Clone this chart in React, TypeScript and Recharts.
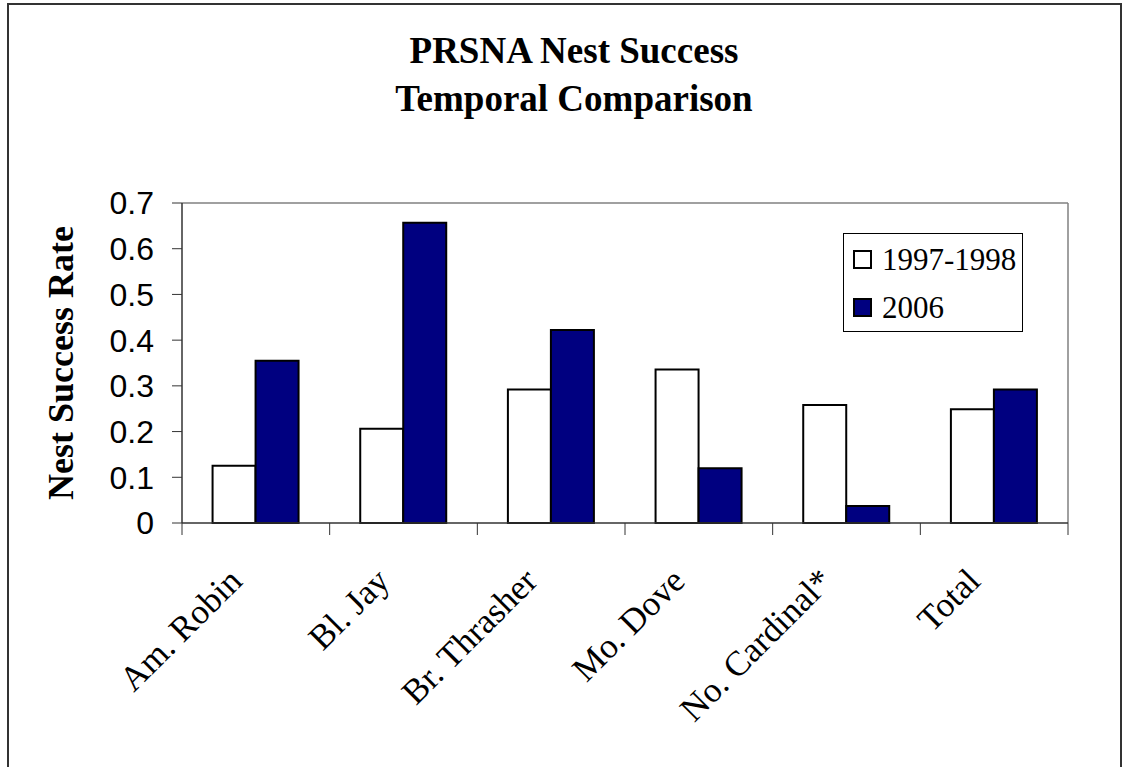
import { BarChart, Bar, XAxis, YAxis, CartesianGrid } from 'recharts';

const categories = ['Am. Robin', 'Bl. Jay', 'Br. Thrasher', 'Mo. Dove', 'No. Cardinal*', 'Total'];
const early = [0.125, 0.206, 0.292, 0.336, 0.258, 0.249];
const recent = [0.355, 0.657, 0.422, 0.12, 0.037, 0.292];
const yTicks = [0, 0.1, 0.2, 0.3, 0.4, 0.5, 0.6, 0.7];

const series = [
    { key: 'early', name: '1997-1998', fill: '#ffffff' },
    { key: 'recent', name: '2006', fill: '#000080' },
];

const data = categories.map((name, i) => ({ name, early: early[i], recent: recent[i] }));

const serif = '"Liberation Serif", "Times New Roman", serif';
const sans = '"Liberation Sans", Arial, sans-serif';

function CategoryTick(props: any) {
    const { x, y, payload, index } = props;
    const half = payload.offset ?? 0;
    const tx = x - 12;
    const ty = y + 60;
    return (
        <g>
            <line x1={x - half} x2={x - half} y1={y} y2={y + 12} stroke="#333" strokeWidth={1} />
            {index === categories.length - 1 && (
                <line x1={x + half} x2={x + half} y1={y} y2={y + 12} stroke="#333" strokeWidth={1} />
            )}
            <text
                x={tx}
                y={ty}
                transform={`rotate(-45 ${tx} ${ty})`}
                textAnchor="end"
                fontFamily={serif}
                fontSize={35}
                fill="#000"
            >
                {payload.value}
            </text>
        </g>
    );
}

function renderYLabel(props: any) {
    const vb = props.viewBox;
    const lx = vb.x - 19;
    const ly = vb.y + vb.height / 2;
    return (
        <text
            x={lx}
            y={ly}
            transform={`rotate(-90 ${lx} ${ly})`}
            textAnchor="middle"
            fontFamily={serif}
            fontWeight="bold"
            fontSize={36}
            fill="#000"
        >
            Nest Success Rate
        </text>
    );
}

export default function App() {
    return (
        <div style={{ position: 'absolute', left: 0, top: 0, width: 1127, height: 767, background: '#fff', overflow: 'hidden' }}>
            <div
                style={{
                    position: 'absolute',
                    left: 7,
                    top: 3,
                    width: 1111,
                    height: 820,
                    border: '2px solid #333',
                }}
            />
            <div
                style={{
                    position: 'absolute',
                    left: 0,
                    top: 27,
                    width: 1148,
                    textAlign: 'center',
                    fontFamily: serif,
                    fontWeight: 'bold',
                    fontSize: 37,
                    lineHeight: '48.4px',
                    color: '#000',
                }}
            >
                <div>PRSNA Nest Success</div>
                <div>Temporal Comparison</div>
            </div>
            <div style={{ position: 'absolute', left: 0, top: 0 }}>
                <BarChart
                    width={1127}
                    height={767}
                    data={data}
                    margin={{ top: 203, right: 59, bottom: 144, left: 92 }}
                    barCategoryGap="20.7%"
                    barGap={0}
                >
                    <CartesianGrid
                        stroke="#808080"
                        strokeWidth={1.5}
                        horizontalCoordinatesGenerator={({ offset }: any) => [offset.top]}
                        verticalCoordinatesGenerator={({ offset }: any) => [offset.left + offset.width]}
                    />
                    <XAxis
                        dataKey="name"
                        interval={0}
                        height={100}
                        tickLine={false}
                        tickSize={0}
                        tickMargin={0}
                        axisLine={{ stroke: '#333', strokeWidth: 1.5 }}
                        tick={<CategoryTick />}
                    />
                    <YAxis
                        type="number"
                        domain={[0, 0.7]}
                        ticks={yTicks}
                        interval={0}
                        width={90}
                        tickSize={10}
                        tickMargin={18}
                        tickFormatter={(v: number) => (v === 0 ? '0' : v.toFixed(1))}
                        tick={{ fontSize: 32, fill: '#000', fontFamily: sans }}
                        tickLine={{ stroke: '#333' }}
                        axisLine={{ stroke: '#333', strokeWidth: 1.5 }}
                        label={renderYLabel}
                    />
                    {series.map((s) => (
                        <Bar
                            key={s.key}
                            dataKey={s.key}
                            name={s.name}
                            fill={s.fill}
                            stroke="#000"
                            strokeWidth={2}
                            isAnimationActive={false}
                        />
                    ))}
                </BarChart>
            </div>
            <div
                style={{
                    position: 'absolute',
                    left: 843,
                    top: 233,
                    width: 178,
                    height: 95,
                    border: '1px solid #000',
                    background: '#fff',
                    paddingTop: 1.5,
                    boxSizing: 'content-box',
                }}
            >
                {series.map((s) => (
                    <div
                        key={s.key}
                        style={{ display: 'flex', alignItems: 'center', height: 48, paddingLeft: 9 }}
                    >
                        <div
                            style={{
                                width: 15,
                                height: 15,
                                border: '2px solid #000',
                                background: s.fill,
                                marginRight: 10,
                            }}
                        />
                        <span style={{ fontFamily: serif, fontSize: 31, lineHeight: '48px', color: '#000' }}>
                            {s.name}
                        </span>
                    </div>
                ))}
            </div>
        </div>
    );
}
